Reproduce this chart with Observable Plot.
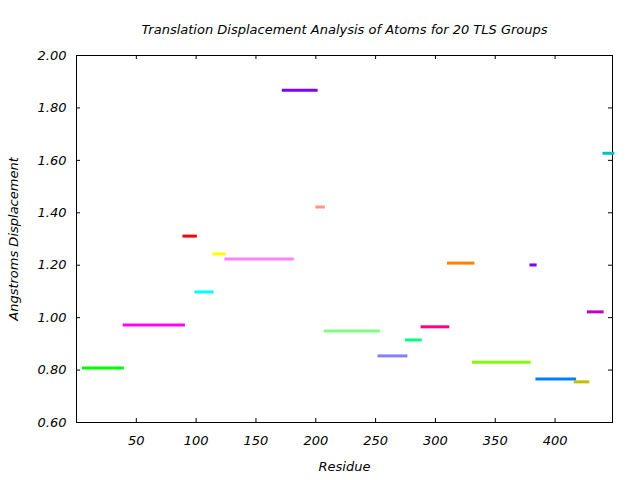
<!DOCTYPE html>
<html>
<head>
<meta charset="utf-8">
<script src="https://cdn.jsdelivr.net/npm/d3@7"></script>
<script src="https://cdn.jsdelivr.net/npm/@observablehq/plot@0.6"></script>
<style>
  html, body { margin: 0; padding: 0; background: #fff; }
</style>
</head>
<body>
<div id="chart"></div>
<script>
const groupStart = [5, 39, 89, 99, 114, 124, 172, 200, 207, 252, 275, 288, 310, 331, 379, 384, 416, 427, 440];
const groupEnd   = [40, 91, 101, 115, 125, 182, 202, 208, 254, 277, 289, 312, 333, 380, 385, 418, 429, 441, 450];
const displacement = [0.808, 0.972, 1.311, 1.098, 1.243, 1.224, 1.867, 1.422, 0.949, 0.854, 0.915, 0.965, 1.208, 0.830, 1.201, 0.766, 0.755, 1.022, 1.627];
const groupColors = ["#00ff00", "#ff00ff", "#ff0000", "#00ffff", "#ffff00", "#ff80ff", "#8000ff", "#ff9980", "#80ff80", "#8080ff", "#00ff80", "#ff0080", "#ff8000", "#80ff00", "#8000ff", "#0080ff", "#c0c000", "#c000c0", "#00c0c0"];

const xTicks = [50, 100, 150, 200, 250, 300, 350, 400];
const xTickMarks = [50, 100, 150, 200, 250, 300, 350, 400];
const yTicks = [0.6, 0.8, 1.0, 1.2, 1.4, 1.6, 1.8, 2.0];

const titleText = "Translation Displacement Analysis of Atoms for 20 TLS Groups";
const xLabel = "Residue";
const yLabel = "Angstroms Displacement";

const groups = groupStart.map((s, i) => ({start: s, end: groupEnd[i], value: displacement[i], color: groupColors[i]}));

const W = 640, H = 480;
const mL = 76, mR = 28, mT = 55, mB = 58;
const frameH = H - mT - mB;
const frameW = W - mL - mR;
const tickLen = 4;
const fs = 13;

const chart = Plot.plot({
  width: W,
  height: H,
  marginLeft: mL,
  marginRight: mR,
  marginTop: mT,
  marginBottom: mB,
  style: {fontFamily: "DejaVu Sans", fontStyle: "italic", fontSize: fs + "px", color: "#000", background: "#fff"},
  x: {domain: [0, 448]},
  y: {domain: [0.6, 2.0]},
  color: {type: "identity"},
  marks: [
    Plot.axisX(xTicks, {anchor: "bottom", tickSize: 0, tickPadding: 13, label: null, fontSize: fs, tickFormat: d => String(d)}),
    Plot.axisY(yTicks, {anchor: "left", tickSize: 0, tickPadding: 10, label: null, fontSize: fs, tickFormat: d => d.toFixed(2)}),
    Plot.tickX(xTickMarks, {x: d => d, insetTop: frameH - tickLen, stroke: "black", strokeWidth: 1}),
    Plot.tickX(xTickMarks, {x: d => d, insetBottom: frameH - tickLen, stroke: "black", strokeWidth: 1}),
    Plot.tickY(yTicks, {y: d => d, insetRight: frameW - tickLen, stroke: "black", strokeWidth: 1}),
    Plot.tickY(yTicks, {y: d => d, insetLeft: frameW - tickLen, stroke: "black", strokeWidth: 1}),
    Plot.frame({stroke: "black", strokeWidth: 1}),
    Plot.ruleY(groups, {y: "value", x1: "start", x2: "end", stroke: "color", strokeWidth: 3, strokeLinecap: "butt"}),
    Plot.text([titleText], {frameAnchor: "top", dy: -31, text: d => d, fontSize: fs, fontStyle: "italic", fill: "black"}),
    Plot.text([xLabel], {frameAnchor: "bottom", dy: 48, text: d => d, fontSize: fs, fontStyle: "italic", fill: "black"}),
    Plot.text([yLabel], {frameAnchor: "left", textAnchor: "middle", dx: -63, rotate: -90, text: d => d, fontSize: fs, fontStyle: "italic", fill: "black"})
  ]
});

document.getElementById("chart").appendChild(chart);
</script>
</body>
</html>
